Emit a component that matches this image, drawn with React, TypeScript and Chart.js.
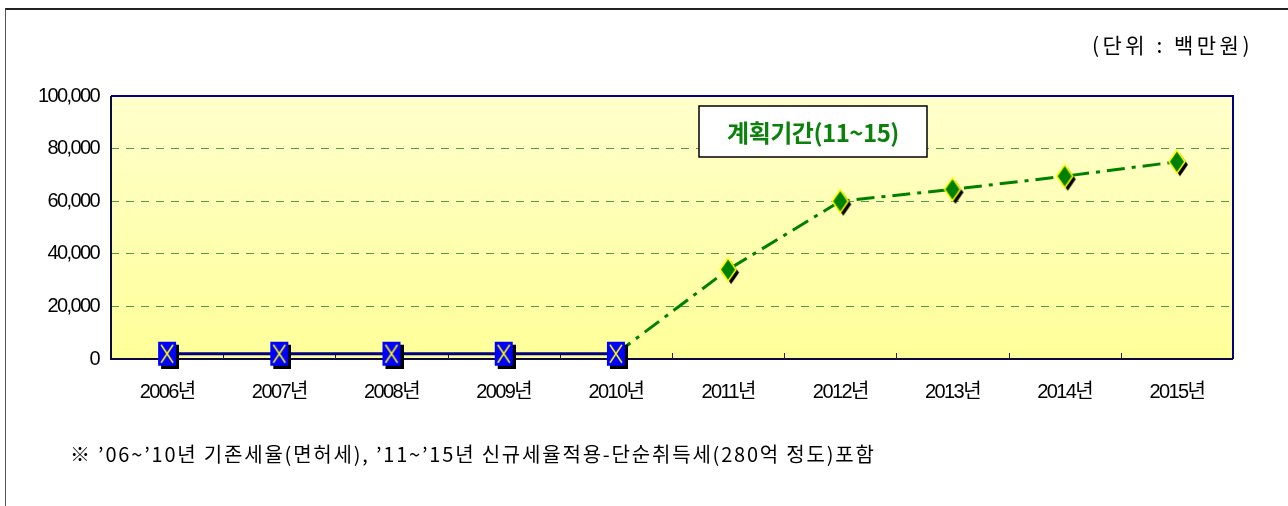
import React, { useEffect, useRef } from "react";
import { Chart, registerables } from "chart.js";

Chart.register(...registerables);

// ---- data ----
const categories = ["2006년", "2007년", "2008년", "2009년", "2010년", "2011년", "2012년", "2013년", "2014년", "2015년"];
const existingRate = [2000, 2000, 2000, 2000, 2000, null, null, null, null, null];
const newRate = [null, null, null, null, 2000, 34000, 60000, 64500, 69500, 75000];
const newRateMarker = [false, false, false, false, false, true, true, true, true, true];
const yTickValues = [0, 20000, 40000, 60000, 80000, 100000];
const unitLabel = "(단위 : 백만원)";
const periodLabel = "계획기간(11~15)";
const footnote = "※ ’06~’10년 기존세율(면허세), ’11~’15년 신규세율적용-단순취득세(280억 정도)포함";

const NUM_FONT = "'Liberation Sans', Arial, 'Noto Sans CJK KR', sans-serif";
const KR_FONT = "'Noto Sans CJK KR', 'Noto Sans', sans-serif";

function makeSquareMarker(): HTMLCanvasElement {
  const w = 18, h = 24, s = 3;
  const c = document.createElement("canvas");
  c.width = w + 2 * s;
  c.height = h + 2 * s;
  const ctx = c.getContext("2d")!;
  ctx.fillStyle = "#000000";
  ctx.fillRect(2 * s, 2 * s, w, h);
  ctx.fillStyle = "#0000FF";
  ctx.fillRect(s, s, w, h);
  ctx.strokeStyle = "#FFFF00";
  ctx.lineWidth = 1.5;
  ctx.beginPath();
  ctx.moveTo(s + 3, s + 3);
  ctx.lineTo(s + w - 3, s + h - 3);
  ctx.moveTo(s + w - 3, s + 3);
  ctx.lineTo(s + 3, s + h - 3);
  ctx.stroke();
  return c;
}

function makeDiamondMarker(): HTMLCanvasElement {
  const w = 16, h = 23, s = 3;
  const c = document.createElement("canvas");
  c.width = w + 2 * s + 2;
  c.height = h + 2 * s + 2;
  const ctx = c.getContext("2d")!;
  const path = (ox: number, oy: number) => {
    ctx.beginPath();
    ctx.moveTo(ox + w / 2, oy);
    ctx.lineTo(ox + w, oy + h / 2);
    ctx.lineTo(ox + w / 2, oy + h);
    ctx.lineTo(ox, oy + h / 2);
    ctx.closePath();
  };
  path(s + 1 + s, s + 1 + s);
  ctx.fillStyle = "#000000";
  ctx.fill();
  path(s + 1, s + 1);
  ctx.fillStyle = "#008000";
  ctx.fill();
  ctx.strokeStyle = "#FFFF00";
  ctx.lineWidth = 1.5;
  ctx.stroke();
  return c;
}

const plotDecor = {
  id: "plotDecor",
  beforeDraw(chart: any) {
    const { ctx, chartArea: a } = chart;
    const g = ctx.createLinearGradient(0, a.top, 0, a.bottom);
    g.addColorStop(0, "#FFFFCC");
    g.addColorStop(1, "#FFFF99");
    ctx.save();
    ctx.fillStyle = g;
    ctx.fillRect(a.left, a.top, a.right - a.left, a.bottom - a.top);
    ctx.restore();
    // condensed tick labels
    (ctx as any).letterSpacing = "-1.6px";
  },
  beforeDatasetsDraw(chart: any) {
    const { ctx, chartArea: a, scales } = chart;
    (ctx as any).letterSpacing = "0px";
    const x = scales.x;
    ctx.save();
    // frame
    ctx.lineWidth = 2;
    ctx.strokeStyle = "#000080";
    ctx.beginPath();
    ctx.moveTo(a.left, a.top);
    ctx.lineTo(a.right, a.top);
    ctx.lineTo(a.right, a.bottom);
    ctx.stroke();
    ctx.strokeStyle = "#0A0A3C";
    ctx.beginPath();
    ctx.moveTo(a.right, a.bottom);
    ctx.lineTo(a.left, a.bottom);
    ctx.lineTo(a.left, a.top);
    ctx.stroke();
    // inner tick marks at category boundaries
    ctx.lineWidth = 1;
    ctx.strokeStyle = "#222222";
    for (let i = 1; i < categories.length; i++) {
      const bx = Math.round((x.getPixelForValue(i - 1) + x.getPixelForValue(i)) / 2) + 0.5;
      ctx.beginPath();
      ctx.moveTo(bx, a.bottom);
      ctx.lineTo(bx, a.bottom - 6);
      ctx.stroke();
    }
    // period label box
    const bx0 = a.left + 588, by0 = a.top + 10, bw = 228, bh = 51;
    ctx.fillStyle = "#FFFFFF";
    ctx.fillRect(bx0, by0, bw, bh);
    ctx.strokeStyle = "#000000";
    ctx.lineWidth = 1.5;
    ctx.strokeRect(bx0, by0, bw, bh);
    ctx.fillStyle = "#0B800B";
    ctx.font = `bold 24px ${KR_FONT}`;
    ctx.textAlign = "center";
    ctx.textBaseline = "middle";
    (ctx as any).letterSpacing = "-0.5px";
    ctx.fillText(periodLabel, bx0 + bw / 2, by0 + bh / 2 + 1);
    (ctx as any).letterSpacing = "0px";
    ctx.restore();
  },
};

export default function App() {
  const ref = useRef<HTMLCanvasElement>(null);
  useEffect(() => {
    const square = makeSquareMarker();
    const diamond = makeDiamondMarker();
    const chart = new Chart(ref.current!, {
      type: "line",
      data: {
        labels: categories,
        datasets: [
          {
            label: "기존세율",
            data: existingRate,
            borderColor: "#000080",
            borderWidth: 3,
            pointStyle: square as any,
            pointRadius: 10,
            clip: false as any,
            spanGaps: false,
          },
          {
            label: "신규세율",
            data: newRate,
            borderColor: "#008000",
            borderWidth: 3,
            borderDash: [18, 7, 4, 7],
            pointStyle: diamond as any,
            pointRadius: newRateMarker.map((m) => (m ? 10 : 0)),
            clip: false as any,
            spanGaps: false,
          },
        ],
      },
      options: {
        animation: false,
        responsive: false,
        maintainAspectRatio: false,
        layout: { padding: { top: 96, right: 55, left: 0, bottom: 0 } },
        plugins: { legend: { display: false }, tooltip: { enabled: false } },
        scales: {
          x: {
            type: "category",
            offset: true,
            grid: { display: false },
            border: { display: false },
            ticks: { color: "#000", font: { family: NUM_FONT, size: 20 }, padding: 13, maxRotation: 0 },
            afterFit(scale: any) {
              scale.height = 147;
            },
          },
          y: {
            min: 0,
            max: 100000,
            afterBuildTicks(scale: any) {
              scale.ticks = yTickValues.map((v) => ({ value: v }));
            },
            grid: {
              drawTicks: false,
              lineWidth: 1,
              color: (c: any) => (c.tick && (c.tick.value === 0 || c.tick.value === 100000) ? "rgba(0,0,0,0)" : "#4CA04C"),
            },
            border: { display: false, dash: [8, 7] },
            ticks: {
              color: "#000",
              padding: 12,
              font: { family: NUM_FONT, size: 20 },
              callback: (v: any) => Number(v).toLocaleString("en-US"),
            },
            afterFit(scale: any) {
              scale.width = 111;
            },
          },
        },
      },
      plugins: [plotDecor],
    });
    return () => chart.destroy();
  }, []);

  return (
    <div style={{ position: "absolute", left: 0, top: 0, width: 1288, height: 506, overflow: "hidden", background: "#fff" }}>
      <div
        style={{
          position: "absolute",
          left: 5,
          top: 8,
          width: 1300,
          height: 520,
          borderLeft: "1px solid #555",
          borderTop: "2px solid #222",
          boxSizing: "border-box",
        }}
      />
      <canvas ref={ref} width={1288} height={506} style={{ position: "absolute", left: 0, top: 0 }} />
      <div
        style={{
          position: "absolute",
          right: 35,
          top: 33,
          fontFamily: KR_FONT,
          fontSize: 21,
          lineHeight: "23px",
          color: "#000",
          whiteSpace: "nowrap",
          letterSpacing: 3.5,
        }}
      >
        {unitLabel}
      </div>
      <div
        style={{
          position: "absolute",
          left: 70,
          top: 443,
          fontFamily: KR_FONT,
          fontSize: 20,
          lineHeight: "22px",
          color: "#000",
          whiteSpace: "nowrap",
          letterSpacing: 1.8,
        }}
      >
        {footnote}
      </div>
    </div>
  );
}
